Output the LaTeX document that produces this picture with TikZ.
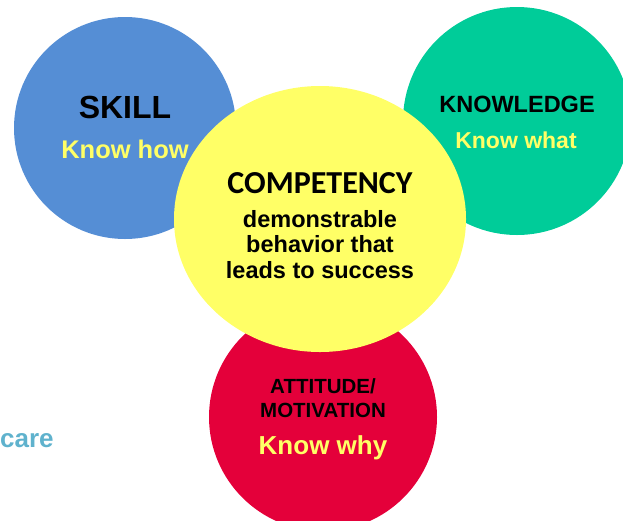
\documentclass[tikz,border=0pt]{standalone}
\usepackage{fontspec}
\setmainfont{Liberation Sans}
\newfontfamily\calibri{Carlito}
\usetikzlibrary{shapes.geometric,positioning}

\definecolor{skillblue}{RGB}{85,142,213}
\definecolor{knowgreen}{RGB}{0,204,153}
\definecolor{compyellow}{RGB}{255,255,102}
\definecolor{attred}{RGB}{228,0,58}
\definecolor{careteal}{RGB}{95,178,205}

\begin{document}
\begin{tikzpicture}[x=1pt, y=-1pt]

\tikzstyle{blob}=[circle, draw=none, inner sep=0pt]
\tikzstyle{titel}=[anchor=base, font=\bfseries, text=black, inner sep=0pt]
\tikzstyle{know}=[anchor=base, font=\bfseries, text=compyellow, inner sep=0pt]

\useasboundingbox (0,0) rectangle (623,520);

% the four circles, yellow one last so it sits on top
\node[blob, fill=skillblue, minimum size=222pt] (skill) at (125,128) {};
\node[blob, fill=knowgreen, minimum size=228pt] (knowledge) at (517,121) {};
\node[blob, fill=attred, minimum size=228pt] (attitude) at (323,417) {};
\node[ellipse, draw=none, inner sep=0pt, fill=compyellow, minimum width=292pt, minimum height=266pt] (competency) at (320,219) {};

% labels
\node[titel, font=\bfseries\fontsize{32}{32}\selectfont] (skilltitle) at (125,118) {SKILL};
\node[know, font=\bfseries\fontsize{25.5}{26}\selectfont] (skillsub) at (125,158) {Know how};

\node[titel, font=\bfseries\fontsize{23.5}{24}\selectfont] (knowtitle) at (517,112) {KNOWLEDGE};
\node[know, font=\bfseries\fontsize{23}{24}\selectfont] (knowsub) at (516,148) {Know what};

\node[titel, font=\calibri\bfseries\fontsize{32}{32}\selectfont] (comptitle) at (320,193) {COMPETENCY};
\node[titel, font=\bfseries\fontsize{23.5}{25.5}\selectfont, align=center, anchor=north] (compsub) at (320,210)
  {demonstrable\\behavior that\\leads to success};

\node[titel, font=\bfseries\fontsize{20.5}{24}\selectfont, align=center, anchor=north] (atttitle) at (323,378)
  {ATTITUDE/\\MOTIVATION};
\node[know, font=\bfseries\fontsize{26}{26}\selectfont] (attsub) at (323,454) {Know why};

\node[anchor=base west, inner sep=0pt, text=careteal, font=\bfseries\fontsize{26}{26}\selectfont] (care) at (0,447) {care};

\end{tikzpicture}
\end{document}
